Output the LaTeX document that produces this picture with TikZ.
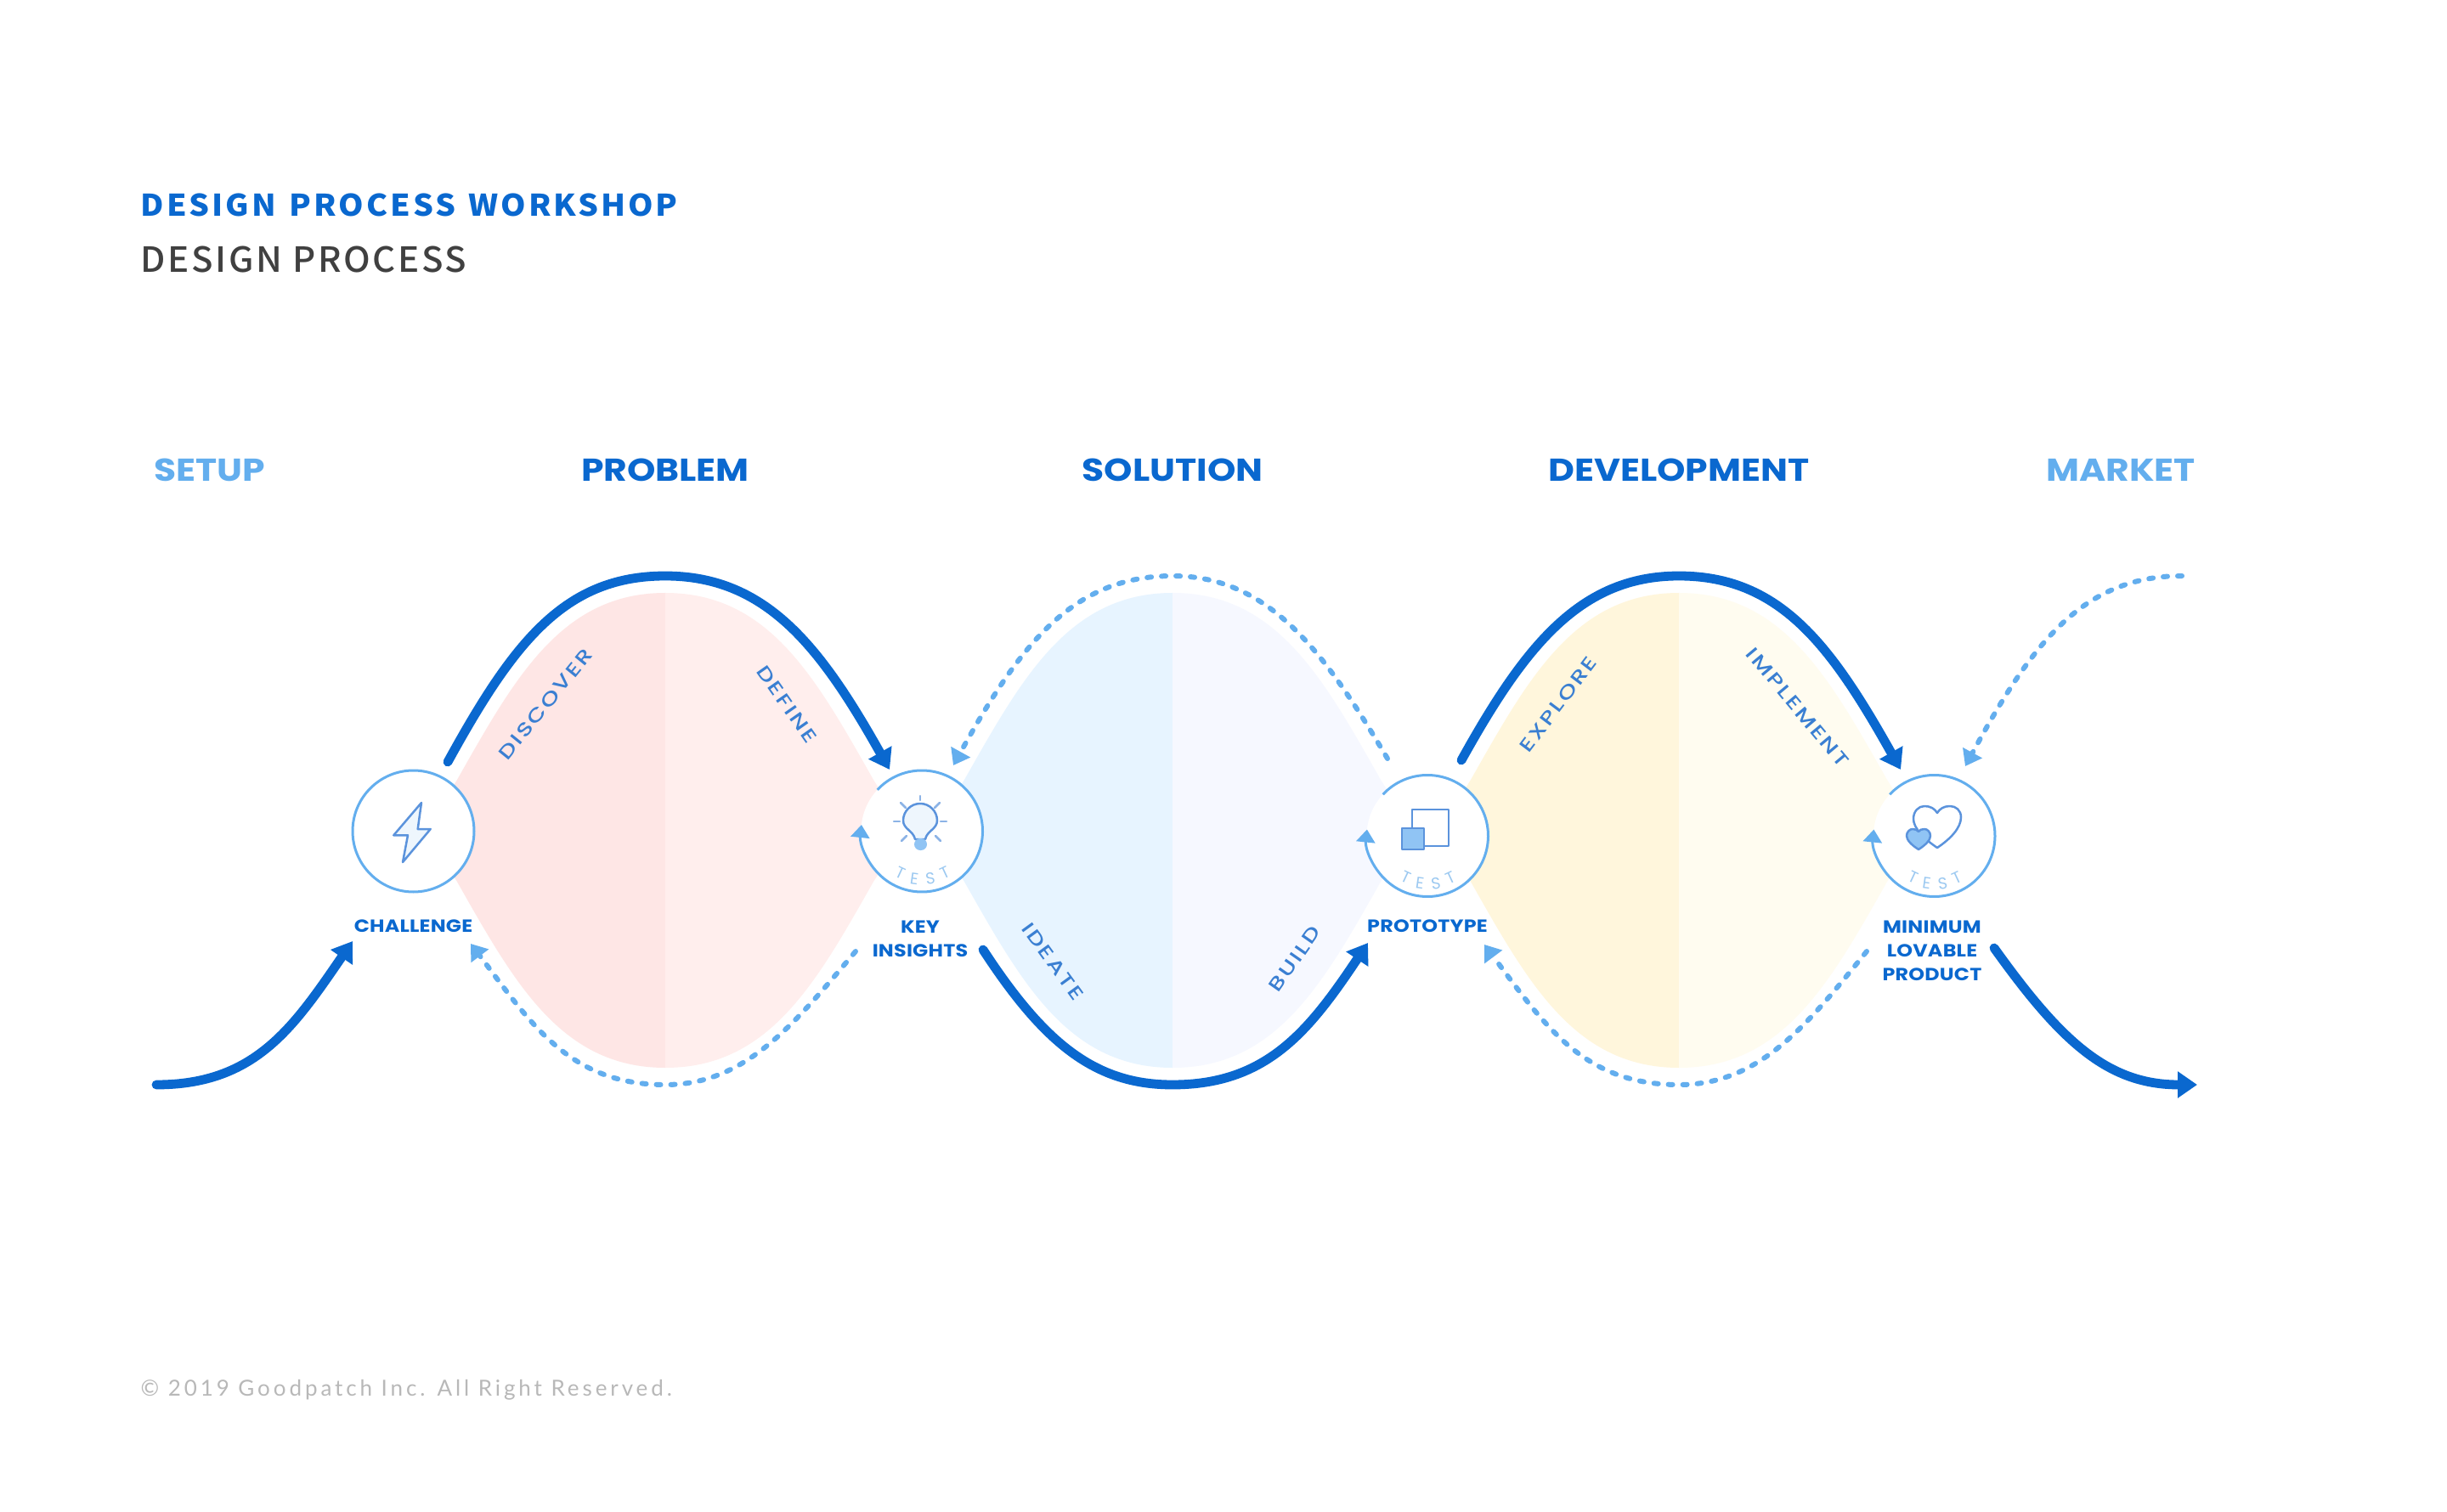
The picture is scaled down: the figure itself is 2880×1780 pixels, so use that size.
\documentclass[tikz,border=0pt]{standalone}
\usepackage{fontspec}
\usetikzlibrary{arrows.meta,calc}
\setmainfont{Noto Sans}
\newfontfamily\titlef[FakeStretch=1.07,LetterSpace=8.5,WordSpace=1.3]{Noto Sans CJK JP}
\newfontfamily\subf[FakeStretch=1.03,LetterSpace=6.5]{Noto Sans CJK JP Medium}
\newfontfamily\headf[FakeStretch=1.14]{Poppins}
\newfontfamily\labelf[FakeStretch=1.15,LetterSpace=1]{Poppins}
\newfontfamily\diagf[FakeStretch=1.3,LetterSpace=11]{Poppins Medium}
\newfontfamily\testf{Poppins}
\newfontfamily\copyf[LetterSpace=15]{Lato}
\definecolor{dblue}{HTML}{0A68CF}
\definecolor{lblue}{HTML}{63AEEE}
\definecolor{txtblue}{HTML}{3A7FD2}
\definecolor{iconblue}{HTML}{5B93DC}
\definecolor{iconfill}{HTML}{90C4F4}
\definecolor{testblue}{HTML}{9CC9F1}
\definecolor{pinkA}{HTML}{FEE6E5}
\definecolor{pinkB}{HTML}{FFEEED}
\definecolor{skyA}{HTML}{E7F4FF}
\definecolor{skyB}{HTML}{F6F8FF}
\definecolor{yelA}{HTML}{FFF6DC}
\definecolor{yelB}{HTML}{FFFCF0}
\tikzset{
  flow/.style={draw=dblue,line width=1.08mm,line cap=round,-{Triangle[length=2.3mm,width=3mm]}},
  back/.style={draw=lblue,line width=.6mm,line cap=round,dash pattern=on .5mm off 1.2mm,-{Triangle[length=1.8mm,width=2.5mm]}},
  stage/.style={circle,fill=white,draw=lblue,line width=.3mm,minimum size=14.3mm,inner sep=0pt,outer sep=0pt},
  openstage/.style={circle,fill=white,minimum size=14.3mm,inner sep=0pt,outer sep=0pt},
  loop/.style={draw=lblue,line width=.3mm,-{Triangle[length=1.5mm,width=2.2mm]}},
  head/.style={font=\headf\bfseries\fontsize{10.6pt}{12pt}\selectfont,inner sep=0pt},
  small/.style={font=\labelf\bfseries\fontsize{5.9pt}{8.05pt}\selectfont,text=dblue,align=center,inner sep=0pt},
  diag/.style={font=\diagf\fontsize{6.3pt}{8pt}\selectfont,text=txtblue,inner sep=0pt},
  testl/.style={font=\testf\fontsize{5.4pt}{6pt}\selectfont,text=testblue,inner sep=0pt},
  icon/.style={draw=iconblue,line width=.25mm,line join=round},
  ray/.style={draw=iconblue!70!white,line width=.25mm,line cap=round}
}
\newcommand{\halflobe}[3]{%
  \fill[#3,shift={(#1,0)},xscale=#2] (0,698) .. controls (-123,698) and (-178,800) .. (-245,918)
    -- (-268,955) -- (-268,1002) -- (-245,1038) .. controls (-178,1156) and (-123,1257) .. (0,1257) -- cycle;}
\newcommand{\testword}[1]{%
  \node[testl,rotate=-25] (#1t1) at ($(#1)+(-25,49)$) {T};
  \node[testl,rotate=-8] (#1e) at ($(#1)+(-9,56)$) {E};
  \node[testl,rotate=8] (#1s) at ($(#1)+(10,56)$) {S};
  \node[testl,rotate=25] (#1t2) at ($(#1)+(27,49)$) {T};}
\begin{document}
\begin{tikzpicture}[x=.1mm,y=-.1mm]
\useasboundingbox (0,0) rectangle (2880,1780);
\fill[white] (0,0) rectangle (2880,1780);
% lobes
\halflobe{783}{1}{pinkA}\halflobe{783}{-1}{pinkB}
\halflobe{1380}{1}{skyA}\halflobe{1380}{-1}{skyB}
\halflobe{1976}{1}{yelA}\halflobe{1976}{-1}{yelB}
% titles
\node[anchor=west,inner sep=0pt,font=\titlef\bfseries\fontsize{10pt}{12pt}\selectfont,text=dblue] (title) at (165,241) {DESIGN PROCESS WORKSHOP};
\node[anchor=west,inner sep=0pt,font=\subf\fontsize{11.6pt}{13pt}\selectfont,text=black!75] (sub) at (165,305) {DESIGN PROCESS};
\node[anchor=west,inner sep=0pt,font=\copyf\fontsize{7.4pt}{9pt}\selectfont,text=black!28] (copy) at (165,1636) {© 2019 Goodpatch Inc. All Right Reserved.};
% phase heads
\node[head,text=lblue] (setup) at (247,553) {SETUP};
\node[head,text=dblue] (problem) at (783,553) {PROBLEM};
\node[head,text=dblue] (solution) at (1380,553) {SOLUTION};
\node[head,text=dblue] (development) at (1976,553) {DEVELOPMENT};
\node[head,text=lblue] (market) at (2496,553) {MARKET};
% stage circles
\node[stage] (c1) at (486.5,978.5) {};
\node[openstage] (c2) at (1085,978.5) {};
\node[openstage] (c3) at (1680,984) {};
\node[openstage] (c4) at (2276.5,984) {};
\draw[loop] (c2.137) arc[start angle=137,end angle=-186,radius=7.15mm];
\draw[loop] (c3.137) arc[start angle=137,end angle=-186,radius=7.15mm];
\draw[loop] (c4.137) arc[start angle=137,end angle=-186,radius=7.15mm];
\testword{c2}\testword{c3}\testword{c4}
% stage labels
\node[small] (challenge) at (486.5,1090) {CHALLENGE};
\node[small,anchor=north] (insights) at (1083,1083) {KEY\\INSIGHTS};
\node[small] (prototype) at (1680,1090) {PROTOTYPE};
\node[small,anchor=north] (mlp) at (2274,1083) {MINIMUM\\LOVABLE\\PRODUCT};
% connector ends
\coordinate (a0) at (184,1277); \coordinate (a1) at (415,1108);
\coordinate (b0) at (527,897);  \coordinate (b1) at (1047,906);
\coordinate (d0) at (1007,1120);\coordinate (d1) at (554,1111);
\coordinate (e0) at (1633,893); \coordinate (e1) at (1122,901);
\coordinate (f0) at (1157,1118);\coordinate (f1) at (1610,1110);
\coordinate (g0) at (1720,895); \coordinate (g1) at (2237,906);
\coordinate (h0) at (2197,1120);\coordinate (h1) at (1747,1112);
\coordinate (i0) at (2568,678); \coordinate (i1) at (2313,902);
\coordinate (j0) at (2347,1116);\coordinate (j1) at (2586,1277);
% connectors
\draw[flow] (a0) .. controls (300,1277) and (345,1210) .. (a1);
\draw[flow] (b0) .. controls (605,755) and (665,678) .. (783,678) .. controls (901,678) and (965,760) .. (b1);
\draw[back] (d0) .. controls (935,1205) and (878,1277) .. (783,1277) .. controls (670,1277) and (625,1205) .. (d1);
\draw[back] (e0) .. controls (1560,770) and (1495,678) .. (1380,678) .. controls (1262,678) and (1200,760) .. (e1);
\draw[flow] (f0) .. controls (1230,1230) and (1290,1277) .. (1380,1277) .. controls (1490,1277) and (1540,1215) .. (f1);
\draw[flow] (g0) .. controls (1795,760) and (1860,678) .. (1976,678) .. controls (2095,678) and (2155,760) .. (g1);
\draw[back] (h0) .. controls (2128,1205) and (2072,1277) .. (1976,1277) .. controls (1865,1277) and (1820,1210) .. (h1);
\draw[back] (i0) .. controls (2450,678) and (2390,760) .. (i1);
\draw[flow] (j0) .. controls (2425,1225) and (2480,1277) .. (j1);
% rotated activity labels
\node[diag,rotate=51] (discover) at (642,829) {DISCOVER};
\node[diag,rotate=-55] (define) at (926,829) {DEFINE};
\node[diag,rotate=-54] (ideate) at (1239,1132) {IDEATE};
\node[diag,rotate=55] (build) at (1524,1129) {BUILD};
\node[diag,rotate=53] (explore) at (1834,829) {EXPLORE};
\node[diag,rotate=-50] (implement) at (2116,833) {IMPLEMENT};
% bolt icon
\draw[icon,fill=iconfill!15] (496,945) -- (463.3,983.3) -- (480,983.3) -- (474,1015) -- (506.7,976) -- (491.7,976) -- cycle;
% bulb icon
\draw[icon,fill=iconfill!15] (1077,988) .. controls (1075,978) and (1063,976) .. (1063,966) .. controls (1063,955) and (1072,946) .. (1083,946) .. controls (1094,946) and (1103,955) .. (1103,966) .. controls (1103,976) and (1091,978) .. (1089,988) -- cycle;
\fill[iconfill,rounded corners=2pt] (1076,987) rectangle (1091,1001);
\draw[ray] (1083,937) -- (1083,942);
\draw[ray] (1060,945) -- (1066,951);
\draw[ray] (1106,945) -- (1100,951);
\draw[ray] (1052,967) -- (1059,967);
\draw[ray] (1107,967) -- (1114,967);
\draw[ray] (1061,990) -- (1067,984);
\draw[ray] (1107,990) -- (1101,984);
% prototype icon
\draw[icon,fill=white] (1662,953) rectangle (1705,996);
\draw[icon,fill=iconfill] (1650,975) rectangle (1676,1000);
% hearts icon
\draw[icon,fill=white] (2280,998) .. controls (2295,988) and (2308,975) .. (2308,962) .. controls (2308,954) and (2302,949) .. (2295,949) .. controls (2288,949) and (2283,952) .. (2280,957) .. controls (2277,952) and (2272,949) .. (2265,949) .. controls (2258,949) and (2252,955) .. (2252,964) .. controls (2252,975) and (2265,988) .. (2280,998) -- cycle;
\draw[icon,fill=iconfill] (2258,1000) .. controls (2266,995) and (2272,989) .. (2272,984) .. controls (2272,979) and (2268,976) .. (2265,976) .. controls (2262,976) and (2259,977) .. (2258,979) .. controls (2257,977) and (2254,976) .. (2251,976) .. controls (2248,976) and (2244,979) .. (2244,984) .. controls (2244,989) and (2250,995) .. (2258,1000) -- cycle;
\end{tikzpicture}
\end{document}
